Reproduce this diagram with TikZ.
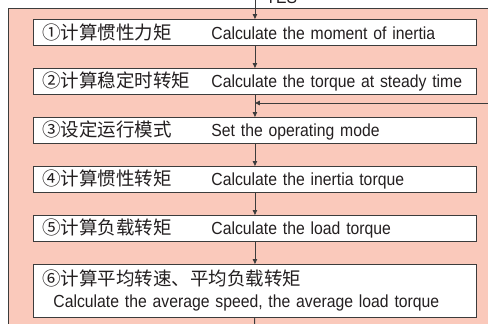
\documentclass[tikz,border=0pt]{standalone}
\usepackage{fontspec}
\setmainfont{Liberation Sans}
\newfontfamily\cjk{Noto Sans CJK SC}
\newfontfamily\en[FakeStretch=0.9]{Liberation Sans}
\usetikzlibrary{arrows.meta}
\definecolor{pinkbg}{RGB}{250,201,187}
\definecolor{edge}{RGB}{60,60,60}
\definecolor{ink}{RGB}{35,31,32}
% Chinese part of a step, fixed width so the English lines up
\newcommand{\zh}[1]{\makebox[169pt][l]{\cjk\fontsize{18.5}{22}\selectfont #1}}

\begin{document}
\begin{tikzpicture}[x=1pt,y=1pt,
  stepbox/.style={draw=edge,fill=white,line width=0.9pt,anchor=north west,
    minimum width=443pt,minimum height=26pt,inner xsep=9pt,inner ysep=0pt,
    text width=425pt,align=left,text=ink,font=\en\fontsize{17.5}{22}\selectfont},
  flow/.style={draw=edge,line width=0.9pt,-{Triangle[length=5pt,width=4.5pt]}}]
\useasboundingbox (0,0) rectangle (488,-324);
\fill[pinkbg,draw=edge,line width=0.9pt] (8,-8) rectangle (500,-340);

\node[anchor=base west,text=ink,font=\en\fontsize{17.5}{22}\selectfont] (yes) at (262,-4) {YES};
\coordinate (entry) at (254,8);

\node[stepbox] (box1) at (33,-19) {\zh{①计算惯性力矩}Calculate the moment of inertia};
\node[stepbox] (box2) at (33,-68) {\zh{②计算稳定时转矩}Calculate the torque at steady time};
\node[stepbox] (box3) at (33,-117) {\zh{③设定运行模式}Set the operating mode};
\node[stepbox] (box4) at (33,-166) {\zh{④计算惯性转矩}Calculate the inertia torque};
\node[stepbox] (box5) at (33,-215) {\zh{⑤计算负载转矩}Calculate the load torque};
\node[stepbox,minimum height=53pt] (box6) at (33,-264)
  {{\cjk\fontsize{18.5}{22}\selectfont ⑥计算平均转速、平均负载转矩}\\
   \hspace*{11pt}Calculate the average speed, the average load torque};

\coordinate (loop) at (500,-103);
\coordinate (exit) at (254.5,-340);

\draw[flow] (entry -| box1.north) -- (box1.north);
\draw[flow] (box1) -- (box2);
\draw[flow] (box2) -- (box3);
\draw[flow] (loop) -- (loop -| box2.south);
\draw[flow] (box3) -- (box4);
\draw[flow] (box4) -- (box5);
\draw[flow] (box5) -- (box6);
\draw[draw=edge,line width=0.9pt] (box6) -- (exit);
\end{tikzpicture}
\end{document}
